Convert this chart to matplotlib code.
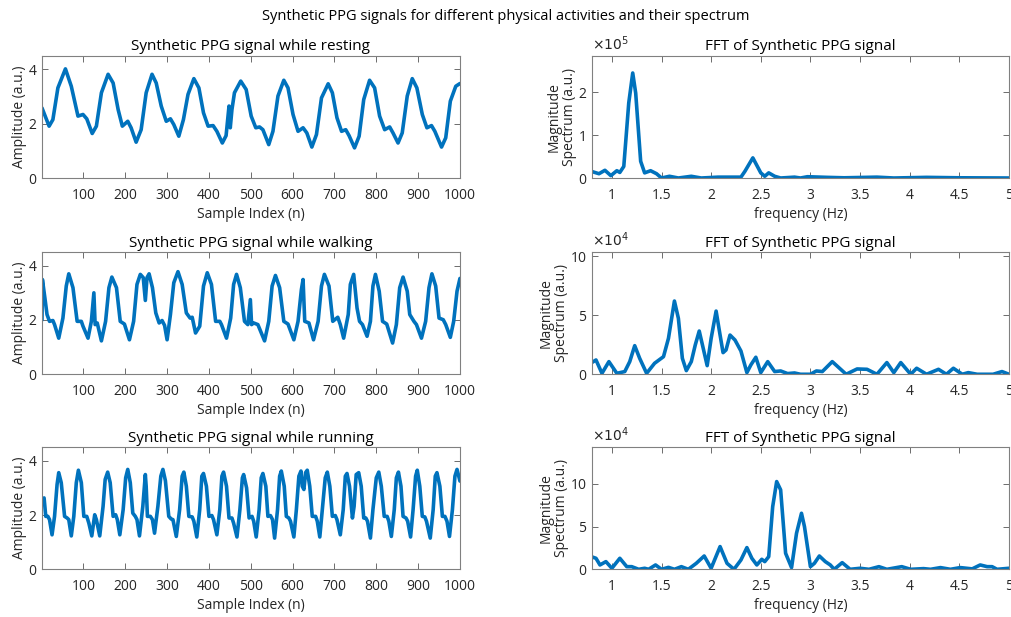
import matplotlib
matplotlib.use("Agg")
import matplotlib.pyplot as plt

plt.rcParams["font.family"] = ["Open Sans", "DejaVu Sans"]

# --- time-domain signals: (sample index, amplitude) vertices ---
rest_n = [1, 18, 27, 39, 57, 71, 87, 99, 108, 121, 131, 143, 159, 171, 183, 193, 206, 214,
          226, 238, 250, 264, 274, 286, 298, 308, 316, 328, 339, 350, 364, 376, 387, 398,
          410, 419, 432, 441, 448, 451, 455, 461, 476, 489, 501, 512, 521, 529, 543, 553,
          565, 579, 589, 601, 613, 625, 634, 646, 657, 669, 685, 695, 706, 717, 727, 735,
          748, 759, 770, 784, 796, 808, 820, 832, 840, 852, 862, 874, 886, 897, 910, 921,
          932, 940, 956, 966, 977, 990, 1000]
rest_v = [2.58, 1.91, 2.15, 3.32, 4.02, 3.38, 2.28, 2.34, 2.18, 1.64, 1.91, 3.14, 3.82, 3.5,
          2.52, 1.91, 2.09, 1.85, 1.32, 1.78, 3.14, 3.82, 3.5, 2.65, 2.09, 2.18, 1.97, 1.54,
          2.15, 3.08, 3.66, 3.32, 2.4, 1.91, 1.93, 1.72, 1.29, 1.56, 2.65, 1.85, 2.52, 3.14,
          3.57, 3.26, 2.28, 1.85, 1.88, 1.78, 1.23, 1.72, 3.02, 3.6, 3.32, 2.34, 1.72, 1.85,
          1.66, 1.14, 1.6, 2.95, 3.47, 3.14, 2.22, 1.72, 1.78, 1.56, 1.11, 1.54, 2.89, 3.6,
          3.32, 2.28, 1.78, 1.88, 1.66, 1.29, 1.66, 3.02, 3.66, 3.32, 2.34, 1.85, 1.93, 1.72,
          1.14, 1.48, 2.83, 3.38, 3.48]

walk_n = [1, 2, 8, 13, 19, 27, 31, 41, 51, 59, 65, 75, 85, 95, 99, 111, 119, 125, 128, 133,
          143, 153, 161, 168, 179, 188, 198, 210, 220, 228, 236, 243, 248, 252, 257, 265,
          273, 281, 288, 294, 300, 308, 316, 326, 336, 346, 355, 360, 368, 378, 387, 396,
          406, 416, 426, 430, 442, 452, 459, 466, 475, 485, 493, 499, 502, 507, 517, 533,
          543, 551, 559, 569, 579, 589, 603, 613, 621, 625, 629, 639, 650, 661, 669, 676,
          687, 696, 708, 714, 722, 733, 738, 746, 754, 760, 767, 778, 786, 792, 798, 807,
          815, 825, 839, 848, 856, 864, 874, 880, 890, 896, 908, 918, 926, 933, 942, 950,
          960, 966, 977, 985, 993, 1000]
walk_v = [2.0, 3.49, 2.8, 2.2, 1.95, 1.98, 1.83, 1.33, 2.07, 3.25, 3.7, 3.19, 1.95, 1.95,
          1.77, 1.33, 1.95, 3.0, 1.83, 1.89, 1.23, 1.95, 3.19, 3.58, 3.19, 1.95, 1.85, 1.27,
          1.95, 3.31, 3.68, 3.56, 2.72, 3.56, 3.7, 3.19, 2.26, 1.89, 1.98, 1.8, 1.27, 2.2,
          3.37, 3.78, 3.31, 2.26, 2.07, 2.1, 1.52, 1.77, 3.25, 3.74, 3.31, 1.95, 1.95, 1.83,
          1.33, 2.07, 3.31, 3.68, 3.19, 1.95, 1.83, 2.75, 1.83, 1.89, 1.83, 1.23, 1.95, 3.25,
          3.64, 3.19, 1.95, 1.85, 1.27, 1.95, 3.12, 3.49, 1.95, 1.89, 1.27, 1.95, 3.25, 3.68,
          3.25, 1.95, 2.1, 1.83, 1.33, 2.2, 3.31, 3.68, 2.44, 1.95, 1.83, 1.4, 1.95, 3.25,
          3.68, 3.06, 1.95, 1.85, 1.15, 1.83, 3.19, 3.58, 3.06, 2.2, 1.95, 1.83, 1.33, 1.95,
          3.19, 3.7, 3.25, 2.07, 2.01, 1.83, 1.36, 1.95, 3.06, 3.53]

run_n = [1, 6, 10, 15, 19, 25, 31, 37, 41, 47, 55, 61, 65, 71, 77, 83, 88, 95, 101, 108,
         113, 120, 127, 131, 139, 147, 152, 158, 164, 171, 177, 181, 187, 195, 201, 206,
         212, 218, 224, 228, 234, 242, 248, 250, 253, 260, 265, 270, 278, 285, 290, 296,
         304, 310, 314, 322, 330, 336, 340, 346, 352, 360, 364, 371, 378, 383, 387, 394,
         400, 407, 411, 419, 426, 431, 435, 442, 448, 455, 459, 467, 474, 480, 483, 490,
         496, 503, 507, 513, 520, 525, 529, 536, 541, 547, 552, 557, 564, 569, 573, 580,
         585, 591, 595, 603, 609, 615, 620, 623, 627, 631, 635, 641, 647, 655, 659, 665,
         671, 678, 683, 689, 695, 702, 706, 714, 721, 726, 730, 736, 743, 747, 752, 758,
         764, 770, 775, 779, 786, 792, 800, 806, 812, 819, 826, 830, 836, 843, 848, 853,
         859, 864, 871, 875, 882, 888, 894, 898, 904, 910, 916, 920, 929, 936, 941, 945,
         952, 958, 964, 969, 975, 982, 988, 993, 1000]
run_v = [2.57, 2.63, 1.95, 1.95, 1.83, 1.27, 1.95, 3.12, 3.56, 3.19, 1.95, 1.89, 1.83, 1.23,
         1.95, 3.19, 3.65, 3.19, 1.95, 1.95, 1.7, 1.23, 2.01, 1.83, 1.23, 2.32, 3.31, 3.58,
         3.19, 1.95, 2.01, 1.83, 1.27, 2.2, 3.37, 3.68, 3.19, 2.07, 1.95, 1.83, 1.23, 2.32,
         3.49, 3.06, 1.95, 1.95, 1.83, 1.33, 2.32, 3.43, 3.68, 3.26, 1.95, 1.85, 1.83, 1.21,
         2.2, 3.43, 3.58, 3.06, 1.95, 1.93, 1.77, 1.19, 2.2, 3.43, 3.53, 3.06, 1.95, 1.98,
         1.83, 1.27, 2.2, 3.43, 3.58, 3.06, 1.89, 1.89, 1.7, 1.19, 2.2, 3.37, 3.49, 3.0, 1.89,
         1.95, 1.77, 1.19, 2.2, 3.37, 3.53, 3.06, 1.95, 1.98, 1.83, 1.15, 2.2, 3.43, 3.62,
         3.06, 1.95, 1.89, 1.77, 1.19, 2.2, 3.43, 3.62, 3.06, 2.94, 3.56, 3.65, 3.06, 1.95,
         1.95, 1.77, 1.19, 2.2, 3.37, 3.58, 3.06, 1.95, 1.98, 1.83, 1.27, 2.2, 3.43, 3.53,
         3.06, 1.89, 2.32, 3.49, 3.56, 3.06, 1.89, 1.89, 1.77, 1.15, 2.2, 3.37, 3.58, 3.06,
         1.95, 1.95, 1.77, 1.21, 2.2, 3.37, 3.58, 3.06, 1.95, 1.89, 1.77, 1.19, 2.2, 3.43,
         3.65, 3.06, 1.95, 1.93, 1.77, 1.15, 2.2, 3.43, 3.56, 3.06, 1.95, 1.95, 1.77, 1.21,
         2.2, 3.43, 3.68, 3.25]

# --- spectra: (frequency Hz, magnitude in units of the axis exponent) ---
rest_f = [0.8, 0.87, 0.93, 0.99, 1.05, 1.08, 1.12, 1.17, 1.21, 1.24, 1.29, 1.33, 1.39, 1.45,
          1.5, 1.58, 1.67, 1.8, 1.9, 2.07, 2.3, 2.34, 2.42, 2.5, 2.54, 2.58, 2.64, 2.7,
          2.84, 2.9, 2.97, 3.17, 3.34, 3.67, 3.84, 4.17, 4.5, 5.0]
rest_m = [0.15, 0.10, 0.18, 0.055, 0.17, 0.13, 0.27, 1.75, 2.45, 1.98, 0.39, 0.12, 0.17,
          0.10, 0.0, 0.04, 0.0, 0.04, 0.0, 0.02, 0.02, 0.156, 0.47, 0.12, 0.04, 0.12, 0.04,
          0.0, 0.02, 0.0, 0.03, 0.015, 0.005, 0.02, 0.0, 0.015, 0.005, 0.0]

walk_f = [0.8, 0.84, 0.9, 0.97, 1.05, 1.13, 1.18, 1.23, 1.28, 1.35, 1.43, 1.52, 1.57, 1.63,
          1.67, 1.71, 1.75, 1.8, 1.84, 1.88, 1.92, 1.96, 2.0, 2.05, 2.09, 2.12, 2.15, 2.19,
          2.24, 2.3, 2.36, 2.4, 2.45, 2.5, 2.57, 2.64, 2.7, 2.77, 2.84, 2.9, 3.0, 3.06, 3.12,
          3.22, 3.36, 3.47, 3.57, 3.67, 3.77, 3.84, 3.91, 4.01, 4.07, 4.17, 4.29, 4.37, 4.44,
          4.53, 4.59, 4.68, 4.84, 4.93, 5.0]
walk_m = [1.0, 1.21, 0.08, 1.07, 0.08, 0.23, 1.07, 2.42, 1.35, 0.08, 0.93, 1.49, 3.04, 6.2,
          4.73, 1.35, 0.31, 1.07, 2.48, 3.66, 2.2, 0.73, 3.04, 5.35, 3.32, 1.83, 2.06, 3.32,
          2.9, 1.97, 0.14, 0.79, 1.44, 0.14, 1.07, 0.23, 0.28, 0.06, 0.11, 0.0, 0.0, 0.28,
          0.23, 1.07, 0.0, 0.45, 0.42, 0.0, 0.99, 0.14, 0.99, 0.0, 0.51, 0.0, 0.42, 0.0, 0.51,
          0.0, 0.14, 0.0, 0.0, 0.23, 0.0]

run_f = [0.8, 0.84, 0.88, 0.94, 1.0, 1.08, 1.15, 1.2, 1.27, 1.33, 1.37, 1.44, 1.5, 1.57,
         1.63, 1.7, 1.77, 1.85, 1.93, 2.0, 2.09, 2.16, 2.23, 2.3, 2.36, 2.41, 2.46, 2.51,
         2.54, 2.58, 2.62, 2.66, 2.7, 2.75, 2.81, 2.86, 2.91, 2.94, 3.0, 3.04, 3.09, 3.15,
         3.2, 3.24, 3.32, 3.4, 3.5, 3.59, 3.69, 3.77, 3.92, 4.01, 4.14, 4.21, 4.31, 4.41,
         4.51, 4.63, 4.71, 4.78, 4.83, 4.88, 5.0]
run_m = [1.45, 1.29, 0.51, 0.9, 0.12, 1.29, 0.31, 0.31, 0.0, 0.12, 0.0, 0.51, 0.0, 0.23, 0.0,
         0.31, 0.0, 0.7, 1.56, 0.12, 2.66, 0.7, 0.0, 1.09, 2.54, 1.29, 0.51, 1.17, 0.9, 1.48,
         7.34, 10.27, 9.3, 1.88, 0.2, 4.22, 6.56, 5.0, 0.31, 0.7, 1.56, 0.9, 0.51, 0.0, 0.78,
         0.0, 0.12, 0.0, 0.31, 0.0, 0.31, 0.0, 0.08, 0.0, 0.2, 0.0, 0.2, 0.05, 0.51, 0.31,
         0.31, 0.0, 0.12]

activities = ["resting", "walking", "running"]
signals = [(rest_n, rest_v), (walk_n, walk_v), (run_n, run_v)]
spectra = [(rest_f, rest_m), (walk_f, walk_m), (run_f, run_m)]
spec_exponent = [5, 4, 4]
spec_ylim = [2.85, 10.34, 14.3]
spec_yticks = [[0, 1, 2], [0, 5, 10], [0, 5, 10]]

LINE = "#0072BD"
TXT = "#262626"

fig = plt.figure(figsize=(10.12, 6.17), dpi=100)
fig.suptitle("Synthetic PPG signals for different physical activities and their spectrum",
             y=0.986, fontsize=10.5, color="black")

row_bottoms = [0.7115, 0.3934, 0.0773]
row_h = 0.198


def style_axes(ax):
    for s in ax.spines.values():
        s.set_color("#808080")
        s.set_linewidth(0.8)
    ax.tick_params(direction="in", length=4, width=0.6, color="#555555", top=True,
                   right=True, labelsize=10, labelcolor=TXT)
    ax.tick_params(axis="x", pad=7)
    ax.tick_params(axis="y", pad=4)


for i in range(3):
    ax = fig.add_axes([0.0415, row_bottoms[i], 0.413, row_h])
    n, v = signals[i]
    ax.plot(n, v, color=LINE, lw=2.6, solid_joinstyle="round", solid_capstyle="round")
    ax.set_xlim(1, 1000)
    ax.set_ylim(0, 4.5)
    ax.set_xticks(range(100, 1001, 100))
    ax.set_yticks([0, 2, 4])
    ax.set_title("Synthetic PPG signal while " + activities[i], fontsize=11, color="black",
                 pad=4)
    ax.set_ylabel("Amplitude (a.u.)", fontsize=10, color=TXT, labelpad=1)
    ax.set_xlabel("Sample Index (n)", fontsize=10, color=TXT, labelpad=3)
    style_axes(ax)

    ax2 = fig.add_axes([0.585, row_bottoms[i], 0.412, row_h])
    f, m = spectra[i]
    ax2.plot(f, m, color=LINE, lw=2.6, solid_joinstyle="round", solid_capstyle="round")
    ax2.set_xlim(0.8, 5)
    ax2.set_ylim(0, spec_ylim[i])
    ax2.set_xticks([1, 1.5, 2, 2.5, 3, 3.5, 4, 4.5, 5])
    ax2.set_xticklabels(["1", "1.5", "2", "2.5", "3", "3.5", "4", "4.5", "5"])
    ax2.set_yticks(spec_yticks[i])
    ax2.set_title("FFT of Synthetic PPG signal", fontsize=11, color="black", pad=4)
    ax2.set_ylabel("Magnitude\nSpectrum (a.u.)", fontsize=10, color=TXT, labelpad=1,
                   linespacing=1.0)
    ax2.set_xlabel("frequency (Hz)", fontsize=10, color=TXT, labelpad=3)
    ax2.text(0.0, 1.015, r"$\times10^{%d}$" % spec_exponent[i], transform=ax2.transAxes,
             fontsize=10, color=TXT, ha="left", va="bottom")
    style_axes(ax2)

fig.savefig("out.png", dpi=100)
